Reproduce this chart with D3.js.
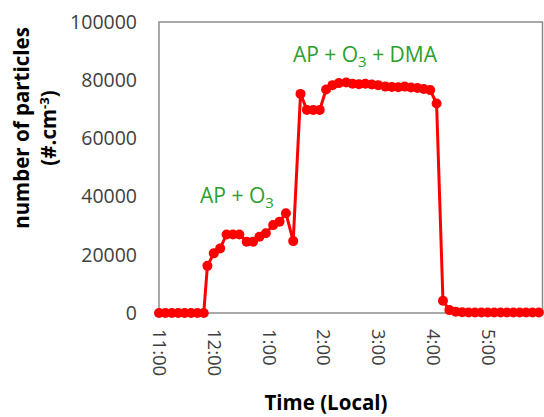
<!DOCTYPE html>
<html>
<head>
<meta charset="utf-8">
<script src="https://cdn.jsdelivr.net/npm/d3@7"></script>
<style>
	body { margin: 0; background: #fff; }
	.axis text { font-family: "Open Sans", sans-serif; fill: #404040; }
	.axis-title { font-family: "Open Sans", sans-serif; font-weight: bold; fill: #000; }
	.annot { font-family: "Open Sans", sans-serif; fill: #2ca02c; }
</style>
</head>
<body>
<div id="chart-area"></div>
<script>

// Sample times (local clock, 24h) and particle counts
var times = [
	"11:00", "11:07", "11:14", "11:21", "11:28", "11:35", "11:42", "11:49",
	"11:53", "12:00", "12:07", "12:14", "12:21", "12:28", "12:36", "12:43", "12:50", "12:57", "13:05", "13:12", "13:19", "13:27",
	"13:35", "13:42", "13:49", "13:56", "14:03", "14:10", "14:17", "14:25", "14:32", "14:39", "14:46", "14:53", "15:00", "15:08", "15:15",
	"15:22", "15:29", "15:36", "15:43", "15:50", "15:57", "16:04",
	"16:11", "16:18", "16:25", "16:32", "16:39", "16:46", "16:53", "17:00", "17:07", "17:14", "17:21", "17:28", "17:35", "17:42", "17:49", "17:56"
];

var counts = [
	0, 0, 0, 0, 0, 0, 0, 0,
	16200, 20500, 22200, 27000, 27000, 27000, 24500, 24500, 26200, 27400, 30200, 31400, 34300, 24700,
	75300, 69800, 69800, 69800, 76800, 78300, 79000, 79200, 78800, 78600, 78800, 78500, 78300, 77800, 77700,
	77600, 77800, 77500, 77300, 77000, 76600, 72000,
	4200, 1000, 400, 300, 200, 200, 200, 200, 200, 200, 200, 200, 200, 200, 200, 200
];

var xTicks = [11, 12, 13, 14, 15, 16, 17];
var tickLabels = ["11:00", "12:00", "1:00", "2:00", "3:00", "4:00", "5:00"];
var yTicks = [0, 20000, 40000, 60000, 80000, 100000];


ParticleChart = function (_parentElement) {
	this.parentElement = _parentElement;
	this.data = times.map(function (t, i) {
		var p = t.split(":");
		return { hour: +p[0] + p[1] / 60, count: counts[i] };
	});
	this.initVis();
}

ParticleChart.prototype.initVis = function () {
	var vis = this;

	vis.margin = { top: 22, right: 1.5, bottom: 104, left: 159 };
	vis.width = 544 - vis.margin.left - vis.margin.right;
	vis.height = 417 - vis.margin.top - vis.margin.bottom;

	vis.root = d3.select("#" + vis.parentElement).append("svg")
		.attr("width", 544)
		.attr("height", 417);

	vis.svg = vis.root.append("g")
		.attr("transform", "translate(" + vis.margin.left + "," + vis.margin.top + ")");

	// Scales
	vis.x = d3.scaleLinear()
		.range([0, vis.width])
		.domain([11, 18]);

	vis.y = d3.scaleLinear()
		.range([vis.height, 0])
		.domain([0, 100000]);

	vis.xAxis = d3.axisBottom(vis.x)
		.tickValues(xTicks)
		.tickSize(0)
		.tickFormat(function (d, i) { return tickLabels[i]; });

	vis.yAxis = d3.axisLeft(vis.y)
		.tickValues(yTicks)
		.tickSize(0)
		.tickFormat(d3.format("d"));

	vis.updateVis();
}

ParticleChart.prototype.updateVis = function () {
	var vis = this;

	// plot frame
	vis.svg.append("rect")
		.attr("width", vis.width)
		.attr("height", vis.height)
		.attr("fill", "none")
		.attr("stroke", "#8c8c8c")
		.attr("stroke-width", 1.5);

	// y axis
	var gy = vis.svg.append("g")
		.attr("class", "y-axis axis")
		.call(vis.yAxis);
	gy.select(".domain").remove();
	gy.selectAll("text")
		.attr("x", -22)
		.style("font-size", "19.5px");

	// x axis, labels turned to read downward
	var gx = vis.svg.append("g")
		.attr("class", "x-axis axis")
		.attr("transform", "translate(0," + vis.height + ")")
		.call(vis.xAxis);
	gx.select(".domain").remove();
	gx.selectAll("text")
		.attr("transform", "rotate(90)")
		.attr("x", 16)
		.attr("y", 0)
		.attr("dy", "0.35em")
		.attr("text-anchor", "start")
		.style("font-size", "18.5px");

	// line + markers
	var line = d3.line()
		.x(function (d) { return vis.x(d.hour); })
		.y(function (d) { return vis.y(d.count); });

	vis.svg.append("path")
		.datum(vis.data)
		.attr("fill", "none")
		.attr("stroke", "#ff0000")
		.attr("stroke-width", 3)
		.attr("d", line);

	vis.svg.selectAll(".dot")
		.data(vis.data)
		.enter()
		.append("circle")
		.attr("class", "dot")
		.attr("cx", function (d) { return vis.x(d.hour); })
		.attr("cy", function (d) { return vis.y(d.count); })
		.attr("r", 5)
		.attr("fill", "#ff0000");

	// annotations
	var a1 = vis.svg.append("text")
		.attr("class", "annot")
		.attr("x", vis.x(11.75))
		.attr("y", vis.y(37800))
		.style("font-size", "21px");
	a1.append("tspan").text("AP + O");
	a1.append("tspan").attr("dy", 5).style("font-size", "15px").text("3");

	var a2 = vis.svg.append("text")
		.attr("class", "annot")
		.attr("x", vis.x(13.445))
		.attr("y", vis.y(86250))
		.style("font-size", "21px");
	a2.append("tspan").text("AP + O");
	a2.append("tspan").attr("dy", 5).style("font-size", "15px").text("3");
	a2.append("tspan").attr("dy", -5).text(" + DMA");

	// axis titles
	vis.root.append("text")
		.attr("class", "axis-title")
		.attr("x", 326)
		.attr("y", 410)
		.attr("text-anchor", "middle")
		.style("font-size", "20.5px")
		.text("Time (Local)");

	var yt = vis.root.append("text")
		.attr("class", "axis-title")
		.attr("transform", "translate(29,128) rotate(-90)")
		.attr("text-anchor", "middle")
		.style("font-size", "20.5px");
	yt.append("tspan").attr("x", 0).attr("y", 0).text("number of particles");
	var l2 = yt.append("tspan").attr("x", 0).attr("y", 27).text("(#.cm");
	l2.append("tspan").attr("dy", -7).style("font-size", "13px").text("-3");
	l2.append("tspan").attr("dy", 7).text(")");
}

var chart = new ParticleChart("chart-area");

</script>
</body>
</html>
